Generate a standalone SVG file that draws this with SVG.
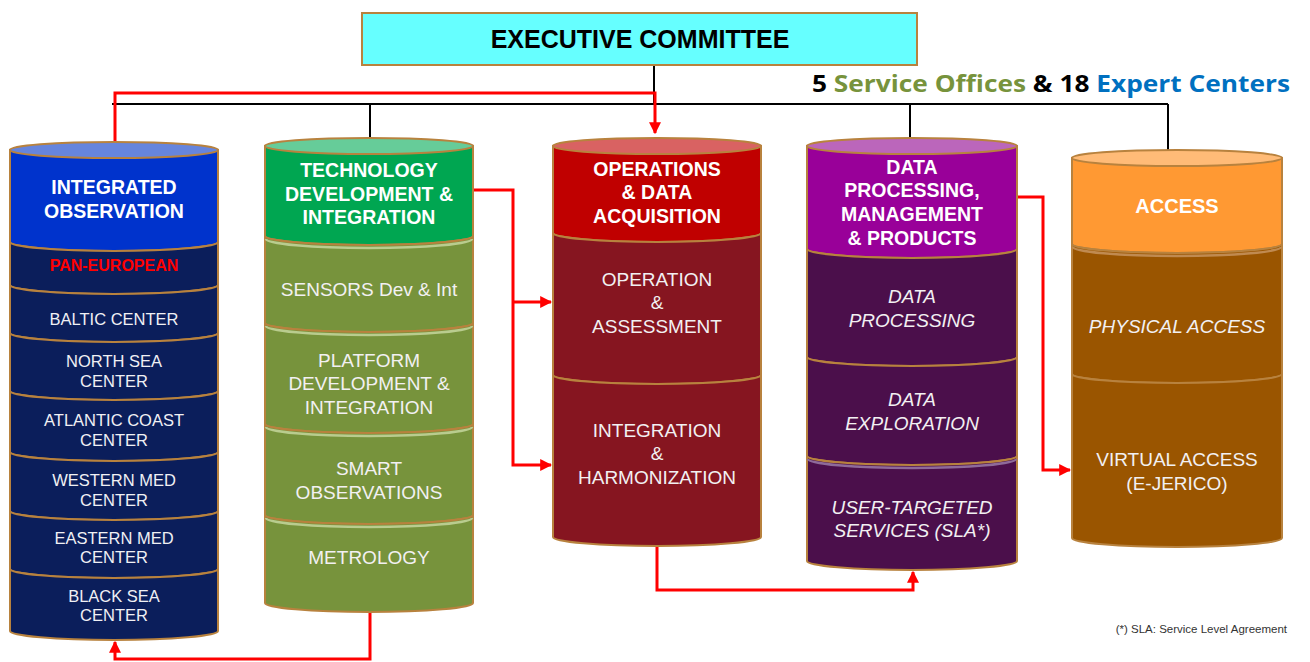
<svg xmlns="http://www.w3.org/2000/svg" width="1310" height="662" viewBox="0 0 1310 662">
<style>
text{font-family:"Liberation Sans",Arial,sans-serif;text-anchor:middle}
.h{font-weight:bold;font-size:19.5px;fill:#fff}
.b{font-size:19px;fill:#f2f0f2}
.s{font-size:16.5px;fill:#f0f0f4}
.i{font-style:italic}
.sec{stroke:#b8823e;stroke-width:2}
.top{stroke:#b8823e;stroke-width:2}
.wire{fill:none;stroke:#000;stroke-width:2}
.red{fill:none;stroke:#ff0000;stroke-width:3}
.hl{fill:none;stroke-width:2.5}
</style>
<defs>
<marker id="ah" viewBox="0 0 10 10" refX="9" refY="5" markerWidth="4" markerHeight="4" orient="auto" markerUnits="strokeWidth">
<path d="M0,0 L10,5 L0,10 Z" fill="#ff0000"/>
</marker>
</defs>

<g id="connectors">
<path class="wire" d="M654,65 V104 M112,104 H1168 M370,104 V138 M910,104 V140 M1168,104 V153"/>
<path class="red" d="M115,142 V93 H655 V133" marker-end="url(#ah)"/>
<path class="red" d="M473,190 H513 V465 H551" marker-end="url(#ah)"/>
<path class="red" d="M513,302 H551" marker-end="url(#ah)"/>
<path class="red" d="M657,546 V590 H913 V572" marker-end="url(#ah)"/>
<path class="red" d="M1017,197 H1043 V470 H1070" marker-end="url(#ah)"/>
<path class="red" d="M370,612 V659 H115 V642" marker-end="url(#ah)"/>
</g>

<g id="executive-committee">
<rect x="362" y="13" width="555" height="52" fill="#66ffff" stroke="#b8823e" stroke-width="2"/>
<text x="640" y="48" style="font-weight:bold;font-size:25px;fill:#000">EXECUTIVE COMMITTEE</text>
</g>

<g id="title">
<text x="812" y="92" textLength="478" lengthAdjust="spacingAndGlyphs" style="text-anchor:start;font-family:'Open Sans',sans-serif;font-weight:bold;font-size:23px;fill:#000">5 <tspan fill="#77933c">Service Offices</tspan> &amp; 18 <tspan fill="#0070c0">Expert Centers</tspan></text>
</g>

<g id="integrated-observation">
<path class="sec" fill="#0033cc" d="M10,150 H218 V242 A104,9 0 0 1 10,242 Z"/>
<path class="sec" fill="#0b1e5b" d="M10,242 A104,9 0 0 0 218,242 V285 A104,9 0 0 1 10,285 Z"/>
<path class="sec" fill="#0b1e5b" d="M10,285 A104,9 0 0 0 218,285 V333 A104,9 0 0 1 10,333 Z"/>
<path class="sec" fill="#0b1e5b" d="M10,333 A104,9 0 0 0 218,333 V391 A104,9 0 0 1 10,391 Z"/>
<path class="sec" fill="#0b1e5b" d="M10,391 A104,9 0 0 0 218,391 V452 A104,9 0 0 1 10,452 Z"/>
<path class="sec" fill="#0b1e5b" d="M10,452 A104,9 0 0 0 218,452 V511 A104,9 0 0 1 10,511 Z"/>
<path class="sec" fill="#0b1e5b" d="M10,511 A104,9 0 0 0 218,511 V569 A104,9 0 0 1 10,569 Z"/>
<path class="sec" fill="#0b1e5b" d="M10,569 A104,9 0 0 0 218,569 V631 A104,9 0 0 1 10,631 Z"/>
<ellipse class="top" cx="114" cy="150" rx="104" ry="8" fill="#6685dd"/>
<text class="h" x="114" y="194">INTEGRATED</text>
<text class="h" x="114" y="218">OBSERVATION</text>
<text x="114" y="271" style="font-weight:bold;font-size:16px;fill:#ff0000">PAN-EUROPEAN</text>
<text class="s" x="114" y="325">BALTIC CENTER</text>
<text class="s" x="114" y="367">NORTH SEA</text>
<text class="s" x="114" y="387">CENTER</text>
<text class="s" x="114" y="426">ATLANTIC COAST</text>
<text class="s" x="114" y="446">CENTER</text>
<text class="s" x="114" y="486">WESTERN MED</text>
<text class="s" x="114" y="506">CENTER</text>
<text class="s" x="114" y="544">EASTERN MED</text>
<text class="s" x="114" y="563">CENTER</text>
<text class="s" x="114" y="602">BLACK SEA</text>
<text class="s" x="114" y="621">CENTER</text>
</g>

<g id="technology-development">
<path class="sec" fill="#00a651" d="M265,146 H473 V236 A104,9 0 0 1 265,236 Z"/>
<path class="sec" fill="#77933c" d="M265,236 A104,9 0 0 0 473,236 V323 A104,9 0 0 1 265,323 Z"/>
<path class="sec" fill="#77933c" d="M265,323 A104,9 0 0 0 473,323 V424 A104,9 0 0 1 265,424 Z"/>
<path class="sec" fill="#77933c" d="M265,424 A104,9 0 0 0 473,424 V515 A104,9 0 0 1 265,515 Z"/>
<path class="sec" fill="#77933c" d="M265,515 A104,9 0 0 0 473,515 V603 A104,9 0 0 1 265,603 Z"/>
<path class="hl" stroke="#b9cc8e" d="M266,239 A103,9 0 0 0 472,239 M266,326 A103,9 0 0 0 472,326 M266,427 A103,9 0 0 0 472,427 M266,518 A103,9 0 0 0 472,518"/>
<ellipse class="top" cx="369" cy="146" rx="104" ry="8" fill="#66cc99"/>
<text class="h" x="369" y="177">TECHNOLOGY</text>
<text class="h" x="369" y="201">DEVELOPMENT &amp;</text>
<text class="h" x="369" y="224">INTEGRATION</text>
<text class="b" x="369" y="296">SENSORS Dev &amp; Int</text>
<text class="b" x="369" y="367">PLATFORM</text>
<text class="b" x="369" y="390">DEVELOPMENT &amp;</text>
<text class="b" x="369" y="414">INTEGRATION</text>
<text class="b" x="369" y="475">SMART</text>
<text class="b" x="369" y="499">OBSERVATIONS</text>
<text class="b" x="369" y="564">METROLOGY</text>
</g>

<g id="operations-data-acquisition">
<path class="sec" fill="#c00000" d="M553,146 H761 V233 A104,9 0 0 1 553,233 Z"/>
<path class="sec" fill="#861520" d="M553,233 A104,9 0 0 0 761,233 V375 A104,9 0 0 1 553,375 Z"/>
<path class="sec" fill="#861520" d="M553,375 A104,9 0 0 0 761,375 V537 A104,9 0 0 1 553,537 Z"/>
<ellipse class="top" cx="657" cy="146" rx="104" ry="8" fill="#d96262"/>
<text class="h" x="657" y="176">OPERATIONS</text>
<text class="h" x="657" y="199">&amp; DATA</text>
<text class="h" x="657" y="223">ACQUISITION</text>
<text class="b" x="657" y="286">OPERATION</text>
<text class="b" x="657" y="309">&amp;</text>
<text class="b" x="657" y="333">ASSESSMENT</text>
<text class="b" x="657" y="437">INTEGRATION</text>
<text class="b" x="657" y="460">&amp;</text>
<text class="b" x="657" y="484">HARMONIZATION</text>
</g>

<g id="data-processing">
<path class="sec" fill="#990099" d="M807,146 H1017 V249 A105,9 0 0 1 807,249 Z"/>
<path class="sec" fill="#4b0f4b" d="M807,249 A105,9 0 0 0 1017,249 V357 A105,9 0 0 1 807,357 Z"/>
<path class="sec" fill="#4b0f4b" d="M807,357 A105,9 0 0 0 1017,357 V456 A105,9 0 0 1 807,456 Z"/>
<path class="sec" fill="#4b0f4b" d="M807,456 A105,9 0 0 0 1017,456 V561 A105,9 0 0 1 807,561 Z"/>
<path class="hl" stroke="#8e6a9a" d="M808,459 A104,9 0 0 0 1016,459"/>
<ellipse class="top" cx="912" cy="146" rx="105" ry="8" fill="#bb66bb"/>
<text class="h" x="912" y="174">DATA</text>
<text class="h" x="912" y="197">PROCESSING,</text>
<text class="h" x="912" y="221">MANAGEMENT</text>
<text class="h" x="912" y="245">&amp; PRODUCTS</text>
<text class="b i" x="912" y="303">DATA</text>
<text class="b i" x="912" y="327">PROCESSING</text>
<text class="b i" x="912" y="406">DATA</text>
<text class="b i" x="912" y="430">EXPLORATION</text>
<text class="b i" x="912" y="514">USER-TARGETED</text>
<text class="b i" x="912" y="537">SERVICES (SLA*)</text>
</g>

<g id="access">
<path class="sec" fill="#ff9933" d="M1072,158 H1282 V244 A105,9 0 0 1 1072,244 Z"/>
<path class="sec" fill="#9a5500" d="M1072,244 A105,9 0 0 0 1282,244 V374 A105,9 0 0 1 1072,374 Z"/>
<path class="sec" fill="#9a5500" d="M1072,374 A105,9 0 0 0 1282,374 V538 A105,9 0 0 1 1072,538 Z"/>
<path class="hl" stroke="#c08a50" d="M1073,247 A104,9 0 0 0 1281,247"/>
<ellipse class="top" cx="1177" cy="158" rx="105" ry="8" fill="#ffbb77"/>
<text class="h" x="1177" y="213" style="font-size:20px">ACCESS</text>
<text class="b i" x="1177" y="333">PHYSICAL ACCESS</text>
<text class="b" x="1177" y="466">VIRTUAL ACCESS</text>
<text class="b" x="1177" y="490">(E-JERICO)</text>
</g>

<g id="footnote">
<text x="1287" y="633" style="text-anchor:end;font-size:11.5px;fill:#333">(*) SLA: Service Level Agreement</text>
</g>
</svg>
